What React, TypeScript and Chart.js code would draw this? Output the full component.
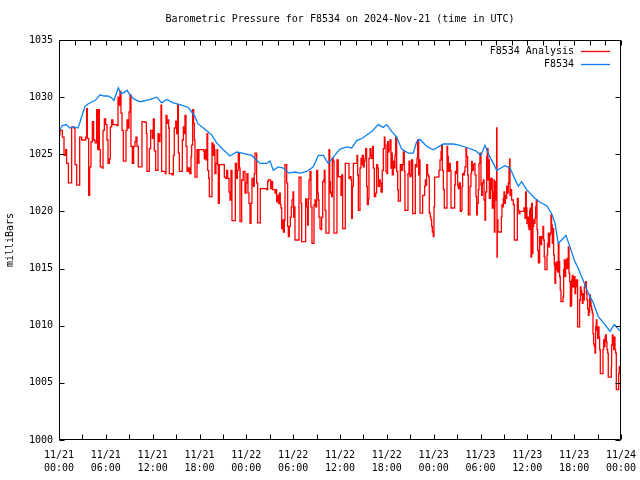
import React, { useEffect, useRef } from "react";
import { Chart, registerables } from "chart.js";

Chart.register(...registerables);

const chartTitle = "Barometric Pressure for F8534 on 2024-Nov-21 (time in UTC)";
const yAxisTitle = "milliBars";
const seriesNames = ["F8534 Analysis", "F8534"];
const seriesColors = ["#ff0000", "#0a80f0"];

const xTickHours = [0, 6, 12, 18, 24, 30, 36, 42, 48, 54, 60, 66, 72];
const xTickLabels = [
  ["11/21", "00:00"], ["11/21", "06:00"], ["11/21", "12:00"], ["11/21", "18:00"],
  ["11/22", "00:00"], ["11/22", "06:00"], ["11/22", "12:00"], ["11/22", "18:00"],
  ["11/23", "00:00"], ["11/23", "06:00"], ["11/23", "12:00"], ["11/23", "18:00"],
  ["11/24", "00:00"],
];
const yMin = 1000;
const yMax = 1035;
const yStep = 5;
const bottomTickStep = 3;
const topTickStep = 2;

// F8534 station observations (hours since 11/21 00:00 UTC, mb)
const stationHours = [
  0.0, 0.38, 0.9, 1.41, 1.92, 2.43, 2.69, 2.95, 3.33, 3.72, 4.23, 4.61, 5.0, 5.25, 5.76, 6.28,
  6.79, 7.05, 7.43, 7.6, 7.94, 8.33, 8.71, 9.1, 9.48, 9.99, 10.5, 11.02, 11.66, 12.52, 13.16,
  13.8, 14.64, 15.72, 16.56, 17.0, 17.42, 17.77, 18.7, 19.56, 20.2, 21.05, 21.9, 22.76, 23.19,
  24.69, 25.75, 26.61, 27.03, 27.45, 28.09, 28.73, 29.46, 30.23, 30.87, 31.73, 32.58, 33.22,
  33.86, 34.08, 34.5, 35.14, 36.0, 36.86, 37.5, 38.14, 38.85, 40.06, 40.9, 41.54, 41.98, 42.62,
  43.26, 43.9, 44.75, 45.39, 45.82, 46.25, 47.1, 47.95, 49.23, 50.51, 51.24, 52.43, 53.38,
  54.06, 54.57, 55.21, 55.77, 56.07, 56.62, 57.14, 57.78, 58.29, 58.84, 59.27, 59.91, 60.89,
  61.62, 62.48, 63.12, 63.54, 63.96, 64.4, 64.95, 65.46, 66.01, 66.53, 67.04, 67.81, 68.45,
  69.09, 69.95, 70.59, 71.14, 71.87,
];
const stationMb = [
  1027.0, 1027.5, 1027.6, 1027.3, 1027.4, 1027.3, 1027.8, 1028.4, 1029.2, 1029.4, 1029.6, 1029.7,
  1030.0, 1030.2, 1030.1, 1030.1, 1029.9, 1029.7, 1030.5, 1030.8, 1030.3, 1030.4, 1030.6, 1030.2,
  1029.9, 1029.7, 1029.6, 1029.7, 1029.8, 1030.0, 1029.5, 1029.8, 1029.5, 1029.3, 1029.1, 1028.7,
  1028.3, 1027.7, 1027.2, 1026.7, 1026.0, 1025.4, 1024.85, 1025.2, 1025.15, 1024.9, 1024.2,
  1024.2, 1024.4, 1023.6, 1023.9, 1023.8, 1023.35, 1023.45, 1023.35, 1023.5, 1023.9, 1024.9,
  1024.9, 1024.65, 1024.2, 1024.75, 1025.45, 1025.65, 1025.55, 1026.2, 1026.4, 1027.0, 1027.6,
  1027.35, 1027.6, 1027.0, 1026.5, 1025.45, 1025.1, 1025.1, 1026.1, 1026.3, 1025.7, 1025.4,
  1025.9, 1025.9, 1025.8, 1025.55, 1025.3, 1024.9, 1025.8, 1024.75, 1024.05, 1023.6, 1023.8,
  1024.0, 1023.8, 1023.0, 1022.2, 1022.6, 1021.9, 1021.2, 1020.8, 1020.5, 1019.8, 1019.0,
  1017.2, 1017.5, 1017.9, 1016.9, 1015.75, 1015.0, 1014.15, 1012.85, 1012.0, 1010.8, 1010.1,
  1009.5, 1010.1, 1009.55,
];

// F8534 Analysis (hours since 11/21 00:00 UTC, mb)
const analysisHours = [
  0.0, 0.13, 0.43, 0.64, 0.85, 0.98, 1.2, 1.54, 1.62, 1.92, 2.05, 2.26, 2.52, 2.65, 2.9, 3.42,
  3.54, 3.63, 3.8, 3.93, 4.1, 4.27, 4.44, 4.61, 4.82, 4.95, 5.08, 5.17, 5.29, 5.55, 5.64, 5.81,
  5.98, 6.15, 6.28, 6.45, 6.58, 6.75, 6.92, 7.43, 7.56, 7.69, 7.81, 7.94, 8.07, 8.24, 8.45,
  8.58, 8.71, 8.84, 8.97, 9.1, 9.22, 9.39, 9.56, 9.74, 9.86, 9.99, 10.16, 10.55, 10.63, 11.02,
  11.19, 11.27, 11.53, 11.57, 11.74, 11.96, 12.08, 12.21, 12.38, 12.6, 12.68, 12.81, 12.94,
  13.07, 13.15, 13.62, 13.71, 13.84, 13.92, 14.05, 14.13, 14.48, 14.65, 14.77, 14.95, 15.07,
  15.2, 15.29, 15.42, 15.71, 15.8, 15.93, 16.06, 16.14, 16.27, 16.4, 16.57, 16.74, 16.91,
  16.99, 17.12, 17.25, 17.34, 17.42, 17.59, 17.68, 17.76, 17.93, 18.49, 18.62, 18.75, 18.87,
  18.96, 19.05, 19.17, 19.26, 19.56, 19.6, 19.73, 19.81, 19.9, 19.98, 20.11, 20.24, 20.33,
  20.41, 20.54, 21.05, 21.18, 21.35, 21.48, 21.61, 21.78, 21.91, 22.03, 22.16, 22.55, 22.59,
  22.72, 22.85, 22.97, 23.1, 23.19, 23.36, 23.4, 23.61, 23.83, 23.96, 24.08, 24.21, 24.34,
  24.47, 24.6, 24.72, 24.9, 25.02, 25.11, 25.24, 25.32, 25.45, 25.75, 25.79, 26.6, 26.73,
  26.82, 27.03, 27.12, 27.24, 27.37, 27.54, 27.67, 27.8, 27.88, 28.01, 28.1, 28.23, 28.35,
  28.44, 28.53, 28.65, 28.74, 28.87, 28.95, 29.08, 29.17, 29.29, 29.38, 29.51, 29.64, 29.76,
  29.85, 29.98, 30.06, 30.15, 30.23, 30.66, 30.75, 30.92, 31.0, 31.09, 31.51, 31.6, 31.73,
  31.86, 31.94, 32.03, 32.16, 32.28, 32.41, 32.58, 32.67, 32.8, 32.88, 33.01, 33.14, 33.22,
  33.31, 33.44, 33.56, 33.65, 33.78, 33.91, 33.99, 34.08, 34.2, 34.5, 34.59, 34.68, 34.76,
  34.85, 34.93, 35.02, 35.14, 35.23, 35.57, 35.61, 35.78, 35.99, 36.13, 36.21, 36.34, 36.6,
  36.68, 37.07, 37.15, 37.28, 37.41, 37.49, 37.58, 37.71, 38.09, 38.18, 38.26, 38.35, 38.47,
  38.56, 38.69, 38.77, 38.86, 38.99, 39.11, 39.2, 39.29, 39.41, 39.5, 39.63, 39.71, 39.84,
  39.97, 40.05, 40.18, 40.27, 40.4, 40.57, 40.69, 40.82, 40.91, 41.04, 41.16, 41.25, 41.34,
  41.42, 41.55, 41.68, 41.76, 41.89, 42.02, 42.1, 42.19, 42.28, 42.4, 42.53, 42.62, 42.7,
  42.83, 42.96, 43.04, 43.13, 43.26, 43.39, 43.47, 43.68, 43.73, 43.86, 43.98, 44.11, 44.24,
  44.32, 44.62, 44.71, 44.84, 44.96, 45.09, 45.18, 45.31, 45.56, 45.65, 45.78, 45.86, 45.95,
  46.08, 46.16, 46.25, 46.55, 46.59, 46.76, 46.84, 46.93, 47.02, 47.1, 47.23, 47.36, 47.44,
  47.57, 47.66, 47.74, 47.83, 47.95, 48.04, 48.12, 48.6, 48.68, 48.81, 48.94, 49.02, 49.11,
  49.24, 49.36, 49.66, 49.71, 49.79, 49.88, 50.0, 50.13, 50.22, 50.64, 50.69, 50.77, 50.86,
  50.94, 51.07, 51.16, 51.29, 51.41, 51.54, 51.63, 51.71, 51.84, 51.93, 52.01, 52.14, 52.22,
  52.35, 52.44, 52.57, 52.65, 52.78, 52.87, 52.95, 53.08, 53.21, 53.29, 53.42, 53.51, 53.59,
  53.72, 53.81, 53.93, 54.06, 54.15, 54.23, 54.36, 54.45, 54.57, 54.66, 54.79, 54.87, 54.96,
  55.04, 55.13, 55.26, 55.34, 55.43, 55.51, 55.64, 55.73, 55.77, 55.85, 55.98, 56.07, 56.11,
  56.15, 56.24, 56.58, 56.67, 56.75, 56.84, 56.92, 57.01, 57.09, 57.18, 57.26, 57.35, 57.48,
  57.56, 57.65, 57.73, 57.78, 57.9, 57.99, 58.2, 58.33, 58.63, 58.72, 58.84, 58.93, 59.06,
  59.48, 59.57, 59.7, 59.78, 59.87, 59.95, 60.04, 60.13, 60.21, 60.3, 60.38, 60.47, 60.55,
  60.64, 60.72, 60.81, 60.89, 60.98, 61.06, 61.15, 61.24, 61.32, 61.41, 61.49, 61.58, 61.66,
  61.75, 61.83, 61.92, 62.0, 62.09, 62.17, 62.26, 62.43, 62.52, 62.6, 62.69, 62.77, 62.86,
  62.94, 63.03, 63.11, 63.2, 63.29, 63.37, 63.46, 63.54, 63.63, 63.71, 63.8, 63.88, 63.97,
  64.05, 64.14, 64.22, 64.31, 64.48, 64.57, 64.65, 64.74, 64.82, 64.91, 64.99, 65.08, 65.16,
  65.25, 65.34, 65.42, 65.51, 65.59, 65.68, 65.76, 65.85, 65.93, 66.02, 66.1, 66.19, 66.27,
  66.36, 66.44, 66.62, 66.7, 66.79, 66.87, 66.96, 67.04, 67.13, 67.21, 67.3, 67.38, 67.47,
  67.56, 67.64, 67.73, 67.81, 67.9, 67.98, 68.07, 68.15, 68.24, 68.32, 68.41, 68.49, 68.58,
  68.67, 68.75, 68.84, 68.92, 69.01, 69.09, 69.18, 69.26, 69.35, 69.61, 69.69, 69.78, 69.86,
  69.95, 70.03, 70.12, 70.2, 70.29, 70.37, 70.71, 70.76, 70.8, 70.89, 70.97, 71.06, 71.14,
  71.23, 71.31, 71.4, 71.65, 71.7, 71.78, 71.87, 71.95,
];
const analysisMb = [
  1026.7, 1027.1, 1026.5, 1024.9, 1025.4, 1024.2, 1022.5, 1022.5, 1027.4, 1027.3, 1024.1, 1022.3,
  1022.3, 1026.5, 1026.25, 1026.5, 1029.0, 1026.4, 1021.4, 1023.9, 1026.1, 1027.85, 1026.25,
  1026.0, 1028.9, 1025.4, 1028.9, 1025.4, 1023.9, 1023.8, 1027.1, 1028.1, 1027.6, 1026.25,
  1024.2, 1024.6, 1027.4, 1028.0, 1027.6, 1027.5, 1030.0, 1029.3, 1030.5, 1028.6, 1027.1,
  1024.4, 1024.4, 1027.1, 1028.0, 1027.3, 1028.7, 1030.2, 1025.7, 1024.2, 1025.7, 1026.1,
  1026.5, 1025.7, 1023.9, 1023.9, 1027.85, 1027.8, 1026.8, 1023.5, 1023.5, 1025.5, 1027.1,
  1026.4, 1028.1, 1025.3, 1023.6, 1023.6, 1026.8, 1026.1, 1026.7, 1029.3, 1023.5, 1023.3,
  1028.4, 1027.7, 1028.0, 1027.3, 1023.3, 1023.2, 1024.9, 1027.3, 1027.9, 1026.8, 1029.3,
  1025.1, 1023.5, 1023.5, 1026.25, 1027.4, 1026.8, 1028.4, 1025.7, 1023.5, 1023.8, 1023.3,
  1024.8, 1025.8, 1028.9, 1027.7, 1026.25, 1023.0, 1023.0, 1025.4, 1024.2, 1025.4, 1025.3,
  1024.6, 1025.4, 1024.5, 1026.8, 1023.6, 1022.9, 1021.3, 1021.3, 1026.0, 1024.9, 1025.8,
  1025.4, 1023.3, 1024.2, 1025.4, 1024.1, 1020.7, 1024.1, 1024.1, 1023.0, 1022.9, 1023.6,
  1022.9, 1021.7, 1021.0, 1023.6, 1019.2, 1019.2, 1024.2, 1022.9, 1023.6, 1025.1, 1023.8,
  1019.1, 1019.1, 1022.75, 1023.5, 1021.6, 1022.5, 1023.3, 1021.6, 1020.7, 1018.96, 1020.7,
  1022.9, 1022.2, 1023.3, 1025.1, 1025.1, 1022.5, 1019.0, 1019.0, 1022.0, 1021.9, 1022.6,
  1022.75, 1022.75, 1022.0, 1022.6, 1021.9, 1021.9, 1021.6, 1021.9, 1020.85, 1021.4, 1020.7,
  1021.6, 1020.6, 1020.3, 1018.5, 1019.25, 1018.2, 1019.25, 1024.1, 1024.1, 1022.5, 1018.7,
  1017.8, 1018.7, 1019.5, 1020.4, 1021.0, 1021.7, 1019.5, 1020.4, 1017.5, 1017.5, 1023.0,
  1023.0, 1020.7, 1017.35, 1017.35, 1021.1, 1020.4, 1018.8, 1021.1, 1022.75, 1023.5, 1020.4,
  1017.2, 1017.2, 1020.6, 1021.0, 1020.4, 1023.6, 1021.6, 1021.0, 1019.5, 1018.5, 1018.4,
  1019.5, 1022.6, 1022.75, 1023.6, 1020.1, 1018.1, 1018.1, 1025.4, 1022.6, 1021.6, 1021.7,
  1021.3, 1024.65, 1024.4, 1018.1, 1018.1, 1024.5, 1023.05, 1023.05, 1021.4, 1023.2, 1018.5,
  1018.5, 1024.2, 1024.2, 1022.9, 1023.05, 1022.75, 1019.4, 1022.2, 1024.2, 1024.2, 1024.9,
  1023.2, 1020.1, 1020.1, 1023.8, 1024.65, 1024.1, 1024.9, 1023.9, 1024.4, 1024.65, 1025.5,
  1022.2, 1020.6, 1021.15, 1024.65, 1025.5, 1024.9, 1024.65, 1025.7, 1023.8, 1021.3, 1021.6,
  1024.1, 1023.8, 1022.2, 1022.75, 1022.5, 1021.7, 1021.7, 1023.6, 1025.5, 1026.5, 1025.8,
  1023.5, 1023.3, 1026.1, 1025.2, 1025.4, 1026.25, 1023.8, 1025.1, 1023.2, 1024.4, 1023.8,
  1024.9, 1026.5, 1023.5, 1021.9, 1020.9, 1020.9, 1024.1, 1023.6, 1024.1, 1025.2, 1023.5,
  1020.1, 1020.1, 1023.3, 1024.4, 1023.05, 1023.2, 1024.5, 1019.8, 1019.8, 1024.1, 1023.9,
  1024.65, 1026.25, 1023.2, 1024.5, 1019.85, 1019.85, 1021.4, 1021.4, 1022.2, 1022.75, 1022.3,
  1024.1, 1023.2, 1023.0, 1019.85, 1019.5, 1019.25, 1018.7, 1018.2, 1017.8, 1020.4, 1023.0,
  1023.0, 1023.6, 1024.5, 1025.2, 1025.8, 1023.6, 1021.9, 1020.3, 1020.3, 1025.7, 1024.8,
  1023.5, 1024.2, 1023.6, 1020.3, 1020.3, 1022.3, 1023.5, 1023.3, 1024.35, 1022.3, 1022.0,
  1022.5, 1020.0, 1020.1, 1022.2, 1023.3, 1023.2, 1023.5, 1023.9, 1025.5, 1024.8, 1023.2,
  1019.7, 1019.7, 1022.2, 1023.3, 1024.35, 1023.6, 1024.1, 1024.2, 1023.2, 1021.3, 1019.7,
  1020.7, 1021.9, 1024.2, 1025.1, 1022.3, 1021.4, 1022.5, 1022.75, 1021.0, 1019.25, 1021.7,
  1024.8, 1025.5, 1022.75, 1024.5, 1021.15, 1022.9, 1021.9, 1022.9, 1020.3, 1021.7, 1022.75,
  1018.2, 1022.6, 1021.0, 1027.3, 1016.0, 1019.25, 1018.2, 1018.2, 1019.5, 1020.6, 1020.4,
  1021.15, 1021.7, 1020.7, 1021.4, 1021.15, 1022.2, 1021.6, 1022.5, 1023.9, 1024.6, 1021.4,
  1021.9, 1021.0, 1020.6, 1017.5, 1017.5, 1021.15, 1020.1, 1019.8, 1020.0, 1020.0, 1020.3,
  1019.4, 1021.7, 1020.3, 1018.95, 1019.5, 1018.7, 1018.4, 1020.1, 1020.3, 1016.0, 1020.7,
  1016.3, 1018.7, 1019.25, 1018.95, 1019.4, 1020.4, 1021.0, 1018.4, 1016.6, 1015.5, 1015.5,
  1017.8, 1017.8, 1017.1, 1017.8, 1017.65, 1018.7, 1017.5, 1016.0, 1014.9, 1014.9, 1016.2,
  1017.2, 1018.1, 1016.9, 1017.9, 1018.1, 1019.7, 1018.8, 1017.2, 1018.5, 1016.2, 1015.3,
  1013.7, 1015.5, 1014.9, 1015.6, 1014.7, 1017.2, 1015.6, 1014.3, 1013.1, 1012.1, 1012.1,
  1012.5, 1014.9, 1015.75, 1014.3, 1015.0, 1015.75, 1015.9, 1015.0, 1016.9, 1014.6, 1013.85,
  1011.7, 1011.8, 1014.0, 1014.4, 1013.4, 1014.0, 1014.3, 1012.8, 1014.0, 1013.4, 1014.0,
  1009.9, 1009.9, 1012.25, 1013.4, 1013.1, 1012.7, 1011.95, 1012.8, 1012.25, 1013.4, 1013.7,
  1013.85, 1012.8, 1012.25, 1011.5, 1010.9, 1011.2, 1012.7, 1012.1, 1011.7, 1011.4, 1011.1,
  1009.3, 1008.4, 1008.2, 1007.6, 1009.9, 1010.5, 1009.6, 1008.9, 1009.9, 1009.0, 1007.9,
  1005.8, 1005.8, 1007.9, 1008.75, 1008.2, 1009.0, 1009.2, 1008.6, 1007.9, 1007.6, 1005.5,
  1005.5, 1006.4, 1008.3, 1009.2, 1008.5, 1007.9, 1009.0, 1007.9, 1007.6, 1004.4, 1004.4,
  1005.8, 1006.4, 1006.0, 1008.2,
];

const FONT = "'DejaVu Sans Mono', 'Liberation Mono', monospace";
const TICK_LEN = 5;

const gnuplotFrame = {
  id: "gnuplotFrame",
  afterDatasetsDraw(chart: any) {
    const { ctx, chartArea: a, scales } = chart;
    const L = Math.round(a.left) + 0.5;
    const R = Math.round(a.right) - 0.5;
    const T = Math.round(a.top) + 0.5;
    const B = Math.round(a.bottom) - 0.5;
    ctx.save();
    ctx.strokeStyle = "#000";
    ctx.lineWidth = 1;
    ctx.beginPath();
    ctx.rect(L, T, R - L, B - T);
    for (const t of scales.y.ticks) {
      const y = Math.round(scales.y.getPixelForValue(t.value)) + 0.5;
      ctx.moveTo(L, y);
      ctx.lineTo(L + TICK_LEN, y);
      ctx.moveTo(R, y);
      ctx.lineTo(R - TICK_LEN, y);
    }
    for (const t of scales.x.ticks) {
      const x = Math.round(scales.x.getPixelForValue(t.value)) + 0.5;
      ctx.moveTo(x, B);
      ctx.lineTo(x, B - TICK_LEN);
    }
    for (let h = scales.x.min; h <= scales.x.max; h += topTickStep) {
      const x = Math.round(scales.x.getPixelForValue(h)) + 0.5;
      ctx.moveTo(x, T);
      ctx.lineTo(x, T + TICK_LEN);
    }
    ctx.stroke();

    // key, top-right inside the plot
    ctx.font = `10px ${FONT}`;
    ctx.textAlign = "right";
    ctx.textBaseline = "middle";
    chart.data.datasets.forEach((ds: any, i: number) => {
      const y = Math.round(a.top + 11 + i * 12.6) + 0.5;
      ctx.fillStyle = "#000";
      ctx.fillText(ds.label, a.right - 47, y);
      ctx.strokeStyle = ds.borderColor;
      ctx.lineWidth = 1.3;
      ctx.beginPath();
      ctx.moveTo(a.right - 40, y);
      ctx.lineTo(a.right - 11, y);
      ctx.stroke();
    });
    ctx.restore();
  },
};

export default function App() {
  const canvasRef = useRef<HTMLCanvasElement | null>(null);

  useEffect(() => {
    document.body.style.margin = "0";
    const canvas = canvasRef.current;
    if (!canvas) return;
    Chart.defaults.font.family = FONT;
    Chart.defaults.font.size = 10;
    Chart.defaults.color = "#000";

    const analysis = analysisHours.map((x, i) => ({ x, y: analysisMb[i] }));
    const station = stationHours.map((x, i) => ({ x, y: stationMb[i] }));

    const chart = new Chart(canvas, {
      type: "line",
      data: {
        datasets: [
          {
            label: seriesNames[0],
            data: analysis,
            borderColor: seriesColors[0],
            borderWidth: 1.3,
            pointRadius: 0,
            stepped: true,
            fill: false,
            order: 1,
          },
          {
            label: seriesNames[1],
            data: station,
            borderColor: seriesColors[1],
            borderWidth: 1.3,
            pointRadius: 0,
            fill: false,
            tension: 0,
            order: 0,
          },
        ],
      },
      options: {
        responsive: false,
        animation: false,
        devicePixelRatio: 1,
        layout: { padding: { left: 0, right: 19, top: 0, bottom: 0 } },
        plugins: {
          legend: { display: false },
          tooltip: { enabled: false },
          title: {
            display: true,
            text: chartTitle,
            fullSize: false,
            font: { size: 10, weight: "normal", family: FONT },
            color: "#000",
            padding: { top: 13, bottom: 15 },
          },
        },
        scales: {
          x: {
            type: "linear",
            min: 0,
            max: 72,
            grid: { display: false, drawTicks: false },
            border: { display: false },
            ticks: {
              stepSize: bottomTickStep,
              autoSkip: false,
              maxRotation: 0,
              minRotation: 0,
              padding: 9,
              font: { size: 10, family: FONT, lineHeight: 1.3 },
              color: "#000",
              callback: (v: any) => {
                const i = xTickHours.indexOf(Number(v));
                return i >= 0 ? xTickLabels[i] : "";
              },
            },
            afterFit: (s: any) => {
              s.height = 40;
              s.paddingLeft = 0;
              s.paddingRight = 0;
            },
          },
          y: {
            type: "linear",
            min: yMin,
            max: yMax,
            grid: { display: false, drawTicks: false },
            border: { display: false },
            title: {
              display: true,
              text: yAxisTitle,
              font: { size: 10, family: FONT },
              color: "#000",
              padding: { top: 4, bottom: 0 },
            },
            ticks: {
              stepSize: yStep,
              padding: 6,
              font: { size: 10, family: FONT },
              color: "#000",
              callback: (v: any) => String(v),
            },
            afterFit: (s: any) => {
              s.width = 59;
              s.paddingTop = 0;
              s.paddingBottom = 0;
            },
          },
        },
      },
      plugins: [gnuplotFrame],
    });

    return () => chart.destroy();
  }, []);

  return <canvas ref={canvasRef} width={640} height={480} />;
}
